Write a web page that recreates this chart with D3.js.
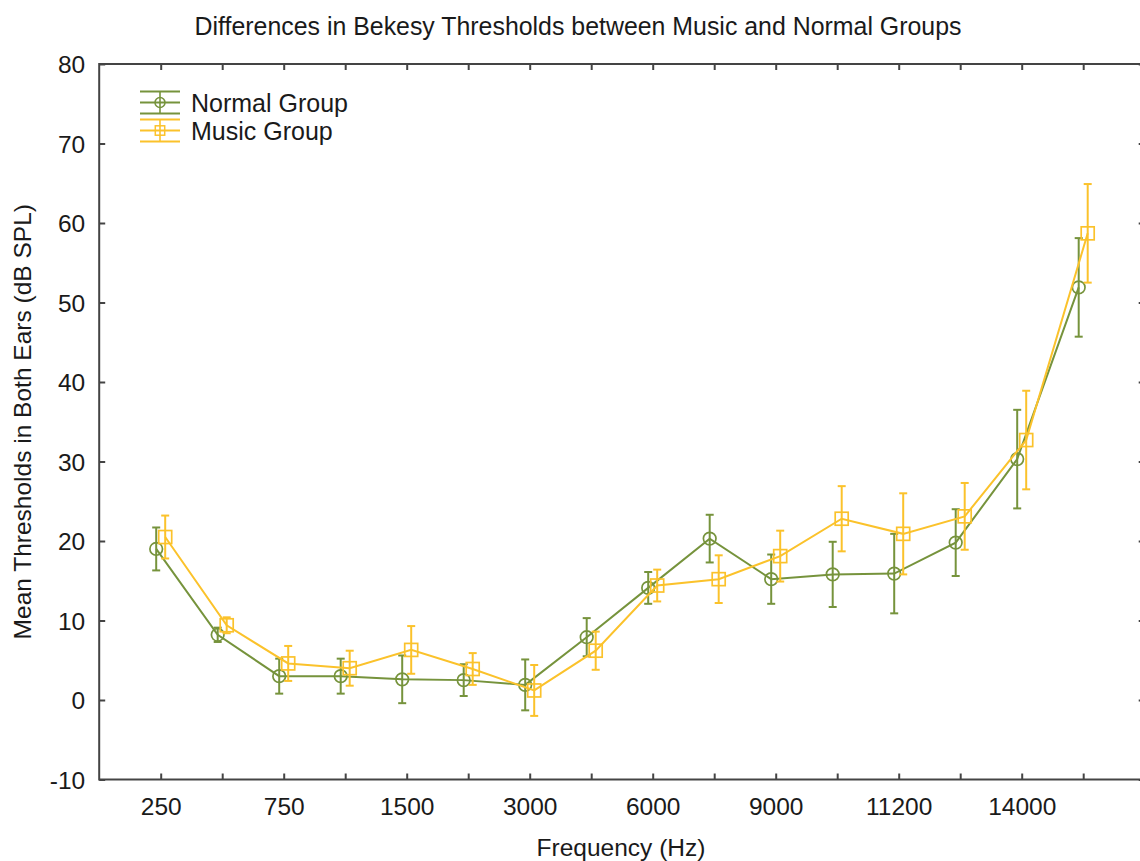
<!DOCTYPE html>
<html>
<head>
<meta charset="utf-8">
<script src="https://cdn.jsdelivr.net/npm/d3@7"></script>
<style>
  html, body { margin: 0; padding: 0; background: #fff; }
  svg { display: block; }
  text { font-family: "Liberation Sans", Arial, sans-serif; fill: #1a1a1a; }
</style>
</head>
<body>
<svg id="chart" width="1140" height="861"></svg>
<script>
// Test frequencies (Hz); only every other one carries a label on the axis
const frequencies = ["250", "500", "750", "1000", "1500", "2000", "3000", "4000",
                     "6000", "8000", "9000", "10000", "11200", "12500", "14000", "16000"];
const labelledFrequencies = ["250", "750", "1500", "3000", "6000", "9000", "11200", "14000"];

// Mean Bekesy thresholds (dB SPL) and half-widths of their error bars
const normalMean = [19.0, 8.2, 3.0, 3.0, 2.6, 2.5, 1.9, 7.9, 14.1, 20.3, 15.2, 15.8, 15.9, 19.8, 30.3, 51.9];
const normalErr  = [2.7, 0.9, 2.2, 2.2, 3.0, 2.0, 3.2, 2.4, 2.0, 3.0, 3.1, 4.1, 5.0, 4.2, 6.2, 6.2];
const musicMean  = [20.5, 9.4, 4.6, 4.0, 6.3, 3.9, 1.2, 6.2, 14.4, 15.2, 18.1, 22.8, 20.9, 23.1, 32.7, 58.7];
const musicErr   = [2.7, 1.0, 2.2, 2.2, 3.0, 2.0, 3.2, 2.4, 2.0, 3.0, 3.2, 4.1, 5.1, 4.2, 6.2, 6.2];

const yTicks = [-10, 0, 10, 20, 30, 40, 50, 60, 70, 80];

const seriesNames = ["Normal Group", "Music Group"];
const seriesColors = ["#76933c", "#fbc22b"];

const svg = d3.select("#chart");
const plotLeft = 99.2, plotRight = 1144.7, plotTop = 64, plotBottom = 779.5;
const fontSize = 24.5;
const axisColor = "#444";

const x = d3.scalePoint().domain(frequencies).range([plotLeft, plotRight]).padding(1);
const y = d3.scaleLinear().domain([-10, 80]).range([plotBottom, plotTop]);

// Title
svg.append("text")
  .attr("x", 578).attr("y", 35)
  .attr("text-anchor", "middle")
  .style("font-size", "24.9px")
  .text("Differences in Bekesy Thresholds between Music and Normal Groups");

// Axes: ticks point inward on all four sides
const tickLen = 6;
const fmtX = d => labelledFrequencies.includes(d) ? d : "";

const gBottom = svg.append("g").attr("transform", `translate(0,${plotBottom})`)
  .call(d3.axisBottom(x).tickSizeInner(-tickLen).tickSizeOuter(0).tickPadding(tickLen + 12).tickFormat(fmtX));
const gTop = svg.append("g").attr("transform", `translate(0,${plotTop})`)
  .call(d3.axisTop(x).tickSizeInner(-tickLen).tickSizeOuter(0).tickFormat(""));
const gLeft = svg.append("g").attr("transform", `translate(${plotLeft},0)`)
  .call(d3.axisLeft(y).tickValues(yTicks).tickSizeInner(-tickLen).tickSizeOuter(0)
    .tickPadding(tickLen + 8).tickFormat(d => String(d)));
const gRight = svg.append("g").attr("transform", `translate(${plotRight},0)`)
  .call(d3.axisRight(y).tickValues(yTicks).tickSizeInner(-tickLen).tickSizeOuter(0).tickFormat(""));

[gBottom, gTop, gLeft, gRight].forEach(g => {
  g.select(".domain").remove();
  g.selectAll(".tick line").attr("stroke", axisColor).attr("stroke-width", 2);
  g.selectAll(".tick text")
    .style("font-size", fontSize + "px")
    .style("font-family", "'Liberation Sans', Arial, sans-serif")
    .attr("fill", "#1a1a1a");
});
gLeft.selectAll(".tick text").attr("dy", "0.36em");

// Frame
svg.append("rect")
  .attr("x", plotLeft).attr("y", plotTop)
  .attr("width", plotRight - plotLeft).attr("height", plotBottom - plotTop)
  .attr("fill", "none").attr("stroke", axisColor).attr("stroke-width", 2);

// Axis titles
svg.append("text")
  .attr("x", 621).attr("y", 856)
  .attr("text-anchor", "middle")
  .style("font-size", fontSize + "px")
  .text("Frequency (Hz)");
svg.append("text")
  .attr("transform", `translate(31,${(plotTop + plotBottom) / 2}) rotate(-90)`)
  .attr("text-anchor", "middle")
  .style("font-size", fontSize + "px")
  .text("Mean Thresholds in Both Ears (dB SPL)");

// Series with error bars and hollow markers
const series = [
  { name: seriesNames[0], mean: normalMean, err: normalErr, color: seriesColors[0], dx: -4.5, shape: "circle" },
  { name: seriesNames[1], mean: musicMean, err: musicErr, color: seriesColors[1], dx: 4.5, shape: "square" }
];

const capHalf = 4;
series.forEach(s => {
  const pts = frequencies.map((f, i) => ({ f, m: s.mean[i], e: s.err[i] }));
  const px = d => x(d.f) + s.dx;
  const g = svg.append("g");

  g.append("path")
    .datum(pts)
    .attr("fill", "none")
    .attr("stroke", s.color)
    .attr("stroke-width", 2)
    .attr("d", d3.line().x(px).y(d => y(d.m)));

  const eb = g.selectAll(".eb").data(pts).enter().append("g");
  eb.append("line")
    .attr("x1", px).attr("x2", px)
    .attr("y1", d => y(d.m + d.e)).attr("y2", d => y(d.m - d.e))
    .attr("stroke", s.color).attr("stroke-width", 2);
  [1, -1].forEach(sign => {
    eb.append("line")
      .attr("x1", d => px(d) - capHalf).attr("x2", d => px(d) + capHalf)
      .attr("y1", d => y(d.m + sign * d.e)).attr("y2", d => y(d.m + sign * d.e))
      .attr("stroke", s.color).attr("stroke-width", 2);
  });

  if (s.shape === "circle") {
    g.selectAll(".mk").data(pts).enter().append("circle")
      .attr("cx", px).attr("cy", d => y(d.m)).attr("r", 6.3)
      .attr("fill", "none").attr("stroke", s.color).attr("stroke-width", 1.7);
  } else {
    const side = 13;
    g.selectAll(".mk").data(pts).enter().append("rect")
      .attr("x", d => px(d) - side / 2).attr("y", d => y(d.m) - side / 2)
      .attr("width", side).attr("height", side)
      .attr("fill", "none").attr("stroke", s.color).attr("stroke-width", 1.7);
  }
});

// Legend
const legend = svg.append("g");
series.forEach((s, i) => {
  const cy = 102.5 + i * 28;
  const lg = legend.append("g");
  [-11, 0, 11].forEach(off => {
    lg.append("line")
      .attr("x1", 140).attr("x2", 180)
      .attr("y1", cy + off).attr("y2", cy + off)
      .attr("stroke", s.color).attr("stroke-width", 2);
  });
  lg.append("line")
    .attr("x1", 160).attr("x2", 160).attr("y1", cy - 11).attr("y2", cy + 11)
    .attr("stroke", s.color).attr("stroke-width", 1.6);
  if (s.shape === "circle") {
    lg.append("circle").attr("cx", 160).attr("cy", cy).attr("r", 5)
      .attr("fill", "none").attr("stroke", s.color).attr("stroke-width", 1.5);
  } else {
    lg.append("rect").attr("x", 155.3).attr("y", cy - 4.7).attr("width", 9.4).attr("height", 9.4)
      .attr("fill", "none").attr("stroke", s.color).attr("stroke-width", 1.5);
  }
  lg.append("text")
    .attr("x", 191).attr("y", cy + 9)
    .style("font-size", "25px")
    .text(s.name);
});
</script>
</body>
</html>
